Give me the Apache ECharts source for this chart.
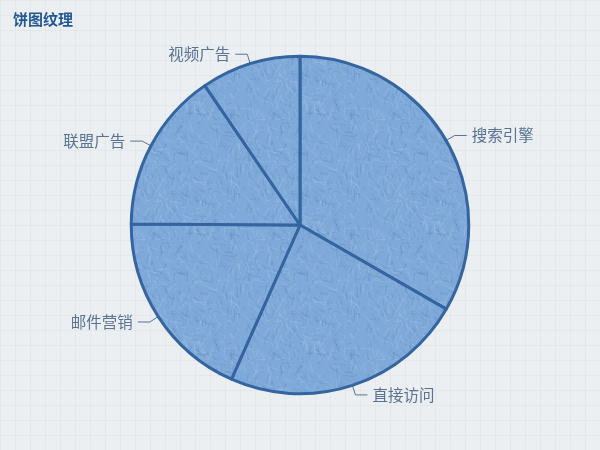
<!DOCTYPE html>
<html><head><meta charset="utf-8">
<script src="https://cdn.jsdelivr.net/npm/echarts@6/dist/echarts.min.js"></script>
<style>html,body{margin:0;padding:0;}#c{width:600px;height:450px;}</style>
</head><body><div id="c"></div>
<script>
var categories = ['搜索引擎', '直接访问', '邮件营销', '联盟广告', '视频广告'];
var values = [1048, 735, 580, 484, 300];
var titleText = '饼图纹理';

function lcg(seed){var s=seed;return function(){s=(s*1664525+1013904223)%4294967296;return s/4294967296;};}

function makeBg(){
  var c=document.createElement('canvas');c.width=60;c.height=60;
  var g=c.getContext('2d');
  g.fillStyle='#ebeff1';g.fillRect(0,0,60,60);
  g.strokeStyle='rgba(205,213,220,0.25)';g.lineWidth=1;
  g.beginPath();
  for(var k=0;k<60;k+=15){g.moveTo(0,k+0.5);g.lineTo(60,k+0.5);g.moveTo(k+0.5,0);g.lineTo(k+0.5,60);}
  g.stroke();
  return c;
}
function makePie(){
  var c=document.createElement('canvas');c.width=120;c.height=120;
  var g=c.getContext('2d');
  g.fillStyle='#7fa9d8';g.fillRect(0,0,120,120);
  var r=lcg(11);
  for(var i=0;i<700;i++){
    var x=r()*120,y=r()*120,a=(r()-0.5)*1.2+(r()<0.6?Math.PI/2:0.4),l=3+r()*10;
    g.strokeStyle=r()<0.5?'rgba(80,125,185,0.3)':'rgba(175,205,235,0.35)';
    g.lineWidth=0.5+r()*0.5;
    g.beginPath();g.moveTo(x,y);g.lineTo(x+Math.cos(a)*l,y+Math.sin(a)*l);g.stroke();
  }
  return c;
}

var chart = echarts.init(document.getElementById('c'));
var data = categories.map(function(n,i){return {name:n,value:values[i]};});
chart.setOption({
  backgroundColor:{image:makeBg(),repeat:'repeat'},
  title:{text:titleText,left:8,top:7,textStyle:{color:'#235894',fontSize:15,fontWeight:'bold',fontFamily:'Noto Sans CJK SC'}},
  series:[{
    type:'pie',
    center:['50%','50%'],
    radius:'75%',
    clockwise:true,
    startAngle:90,
    label:{fontSize:15.5,color:'#5b7292',fontFamily:'Noto Sans CJK SC'},
    labelLine:{length:10,length2:12,lineStyle:{color:'#5b7292'}},
    itemStyle:{color:{image:makePie(),repeat:'repeat'},borderWidth:3,borderColor:'#3565a0'},
    emphasis:{disabled:true},
    data:data
  }]
});
</script></body></html>
